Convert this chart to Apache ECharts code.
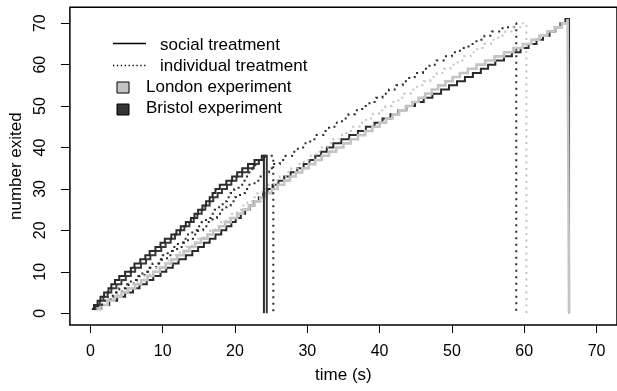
<!DOCTYPE html>
<html>
<head>
<meta charset="utf-8">
<script src="https://cdn.jsdelivr.net/npm/echarts@6/dist/echarts.min.js"></script>
<style>
  html, body { margin: 0; padding: 0; background: #fff; }
  #chart { width: 617px; height: 391px; }
</style>
</head>
<body>
<div id="chart"></div>
<script>
// exit times (s), one entry per person leaving; count = position in the list
const bristolSocialA = [0.2, 0.5, 1.0, 1.4, 1.9, 2.5, 2.9, 3.4, 4.0, 4.8, 5.6, 6.1, 6.9, 7.6, 8.2, 9.0, 9.7, 10.3, 11.2, 11.9,
  12.5, 13.2, 13.9, 14.4, 14.9, 15.5, 16.0, 16.5, 16.9, 17.3, 17.9, 18.8, 19.6, 20.3, 21.0, 21.8, 22.7, 23.7];
const bristolSocialB = [0.3, 0.7, 1.3, 1.8, 2.4, 2.9, 3.6, 4.3, 4.9, 5.6, 6.2, 7.0, 7.7, 8.3, 9.0, 9.8, 10.4, 11.1, 11.7, 12.4,
  13.0, 13.7, 14.3, 14.8, 15.4, 15.9, 16.5, 17.0, 17.6, 18.2, 18.9, 19.5, 20.2, 21.0, 21.8, 22.6, 23.3, 24.0];
const bristolIndivA = [0.3, 0.9, 1.6, 2.4, 3.1, 4.0, 4.9, 5.6, 6.4, 7.2, 7.9, 8.6, 9.4, 10.0, 10.7, 11.3, 12.1, 12.8, 13.5, 14.1,
  14.7, 15.4, 16.0, 16.7, 17.2, 17.8, 18.3, 18.9, 19.4, 19.9, 20.5, 21.0, 21.5, 22.0, 22.4, 22.8, 23.3, 24.3];
const bristolIndivB = [0.4, 1.1, 1.9, 2.8, 3.5, 4.4, 5.3, 6.0, 6.8, 7.5, 8.3, 9.1, 9.9, 10.6, 11.3, 12.0, 12.8, 13.5, 14.2, 14.9,
  15.6, 16.2, 16.9, 17.5, 18.1, 18.8, 19.4, 20.0, 20.7, 21.4, 22.0, 22.7, 23.4, 24.0, 24.7, 25.4, 26.2, 27.0, 27.9, 28.7,
  29.6, 30.4, 31.3, 32.2, 33.0, 33.9, 34.8, 35.7, 36.6, 37.6, 38.6, 39.5, 40.4, 41.3, 42.3, 43.2, 44.1, 45.0, 46.0, 46.9,
  47.9, 49.0, 50.0, 51.1, 52.3, 53.4, 54.5, 55.5, 57.0, 58.6];
const bristolSocialC = [0.6, 1.5, 2.6, 3.7, 4.8, 5.9, 6.8, 7.8, 8.7, 9.7, 10.5, 11.4, 12.2, 13.2, 14.1, 14.9, 15.7, 16.5, 17.3, 18.1,
  18.8, 19.5, 20.1, 20.8, 21.4, 22.0, 22.6, 23.3, 23.9, 24.5, 25.2, 26.0, 26.8, 27.7, 28.6, 29.5, 30.3, 31.1, 31.9, 32.7,
  33.6, 34.7, 35.8, 37.0, 38.1, 39.3, 40.4, 41.5, 42.6, 43.7, 44.9, 46.1, 47.3, 48.5, 49.6, 50.7, 51.8, 52.9, 54.0, 55.0,
  56.0, 57.2, 58.3, 59.5, 60.6, 61.7, 62.6, 63.5, 64.3, 65.0, 65.7];
const londonSocial = [0.5, 1.4, 2.4, 3.3, 4.3, 5.2, 6.2, 7.0, 7.9, 8.7, 9.6, 10.4, 11.2, 12.0, 12.9, 13.7, 14.5, 15.3, 16.2, 17.0,
  17.8, 18.6, 19.4, 20.3, 21.1, 21.9, 22.7, 23.5, 24.3, 25.1, 25.9, 26.8, 27.6, 28.4, 29.3, 30.2, 31.1, 32.0, 33.0, 34.0,
  35.0, 36.0, 37.0, 38.0, 39.0, 40.0, 40.9, 41.8, 42.7, 43.6, 44.5, 45.4, 46.3, 47.2, 48.1, 49.1, 50.1, 51.1, 52.2, 53.4,
  54.6, 55.9, 57.2, 58.5, 59.8, 61.0, 62.1, 63.2, 64.2, 65.2, 66.0];
const londonIndiv = [0.3, 1.2, 2.0, 2.9, 3.8, 4.8, 5.7, 6.5, 7.4, 8.2, 9.1, 9.9, 10.8, 11.6, 12.4, 13.3, 14.1, 14.9, 15.7, 16.6,
  17.3, 18.1, 18.8, 19.6, 20.3, 21.0, 21.7, 22.4, 23.1, 23.8, 24.6, 25.4, 26.2, 27.0, 27.8, 28.7, 29.5, 30.3, 31.2, 32.0,
  32.8, 33.6, 34.5, 35.4, 36.3, 37.2, 38.1, 39.0, 39.9, 40.8, 41.7, 42.6, 43.4, 44.3, 45.2, 46.1, 47.0, 47.9, 48.9, 49.8,
  50.8, 51.7, 52.6, 53.5, 54.5, 55.4, 56.4, 57.4, 58.5, 59.8];

// time at which each trial ended (vertical drop to zero)
const endTimes = { bristolSocialA: 24.0, bristolSocialB: 24.4, bristolIndivA: 25.3, bristolIndivB: 58.9,
  bristolSocialC: 66.2, londonSocial: 66.2, londonIndiv: 60.3 };

const xTicks = [0, 10, 20, 30, 40, 50, 60, 70];
const yTicks = [0, 10, 20, 30, 40, 50, 60, 70];

const DARK = "#2a2a2a";
const LIGHT = "#c4c4c4";
const DOTS = [2, 4.5];
const FONT = "Liberation Sans, Arial, sans-serif";

function steps(times, end) {
  const d = times.map((t, i) => [t, i + 1]);
  d.push([end, 0]);
  return d;
}

function stepSeries(times, end, color, dotted, width) {
  return {
    type: "line",
    step: "end",
    data: steps(times, end),
    showSymbol: false,
    symbol: "none",
    silent: true,
    lineStyle: { color: color, width: width, type: dotted ? DOTS : "solid", cap: "butt", join: "miter" }
  };
}

const chart = echarts.init(document.getElementById("chart"), null, { renderer: "canvas" });

chart.setOption({
  animation: false,
  backgroundColor: "#fff",
  grid: { left: 69.3, top: 7.3, width: 553.4, height: 317.7, show: true, borderColor: "#000", borderWidth: 1.5, backgroundColor: "transparent" },
  xAxis: {
    type: "value", min: -2.83, max: 72.83,
    name: "time (s)", nameLocation: "middle", nameGap: 42,
    nameTextStyle: { color: "#000", fontSize: 17, fontFamily: FONT },
    axisLine: { show: false, onZero: false },
    splitLine: { show: false },
    axisTick: { show: true, length: 8, customValues: xTicks, lineStyle: { color: "#000", width: 1 } },
    axisLabel: { customValues: xTicks, color: "#000", fontSize: 16, fontFamily: FONT, margin: 19 }
  },
  yAxis: {
    type: "value", min: -2.84, max: 73.84,
    name: "number exited", nameLocation: "middle", nameGap: 43, nameRotate: 90,
    nameTextStyle: { color: "#000", fontSize: 17, fontFamily: FONT },
    axisLine: { show: false, onZero: false },
    splitLine: { show: false },
    axisTick: { show: true, length: 9, customValues: yTicks, lineStyle: { color: "#000", width: 1 } },
    axisLabel: { customValues: yTicks, rotate: 90, color: "#000", fontSize: 16, fontFamily: FONT, margin: 21 }
  },
  series: [
    stepSeries(bristolSocialC, endTimes.bristolSocialC, DARK, false, 2),
    stepSeries(bristolIndivB, endTimes.bristolIndivB, DARK, true, 2),
    stepSeries(londonSocial, endTimes.londonSocial, LIGHT, false, 2.6),
    stepSeries(londonIndiv, endTimes.londonIndiv, LIGHT, true, 2),
    stepSeries(bristolIndivA, endTimes.bristolIndivA, DARK, true, 2),
    stepSeries(bristolSocialB, endTimes.bristolSocialB, "#3a3a3a", false, 2),
    stepSeries(bristolSocialA, endTimes.bristolSocialA, DARK, false, 2)
  ],
  // legend drawn by hand to mimic the mixed line / fill keys
  graphic: [
    { type: "line", silent: true, shape: { x1: 113, y1: 43.5, x2: 146, y2: 43.5 }, style: { stroke: "#000", lineWidth: 1.5 } },
    { type: "text", silent: true, x: 160, y: 45, style: { text: "social treatment", fill: "#000", font: "17px " + FONT, verticalAlign: "middle" } },
    { type: "line", silent: true, shape: { x1: 113, y1: 65.5, x2: 146, y2: 65.5 }, style: { stroke: "#000", lineWidth: 1.3, lineDash: [1.3, 2.6] } },
    { type: "text", silent: true, x: 160, y: 66, style: { text: "individual treatment", fill: "#000", font: "17px " + FONT, verticalAlign: "middle" } },
    { type: "rect", silent: true, shape: { x: 117, y: 82, width: 12, height: 11 }, style: { fill: LIGHT, stroke: "#000", lineWidth: 1 } },
    { type: "text", silent: true, x: 146, y: 87.5, style: { text: "London experiment", fill: "#000", font: "17px " + FONT, verticalAlign: "middle" } },
    { type: "rect", silent: true, shape: { x: 117, y: 104, width: 12, height: 11 }, style: { fill: "#333", stroke: "#000", lineWidth: 1 } },
    { type: "text", silent: true, x: 146, y: 108.5, style: { text: "Bristol experiment", fill: "#000", font: "17px " + FONT, verticalAlign: "middle" } }
  ]
});
</script>
</body>
</html>
